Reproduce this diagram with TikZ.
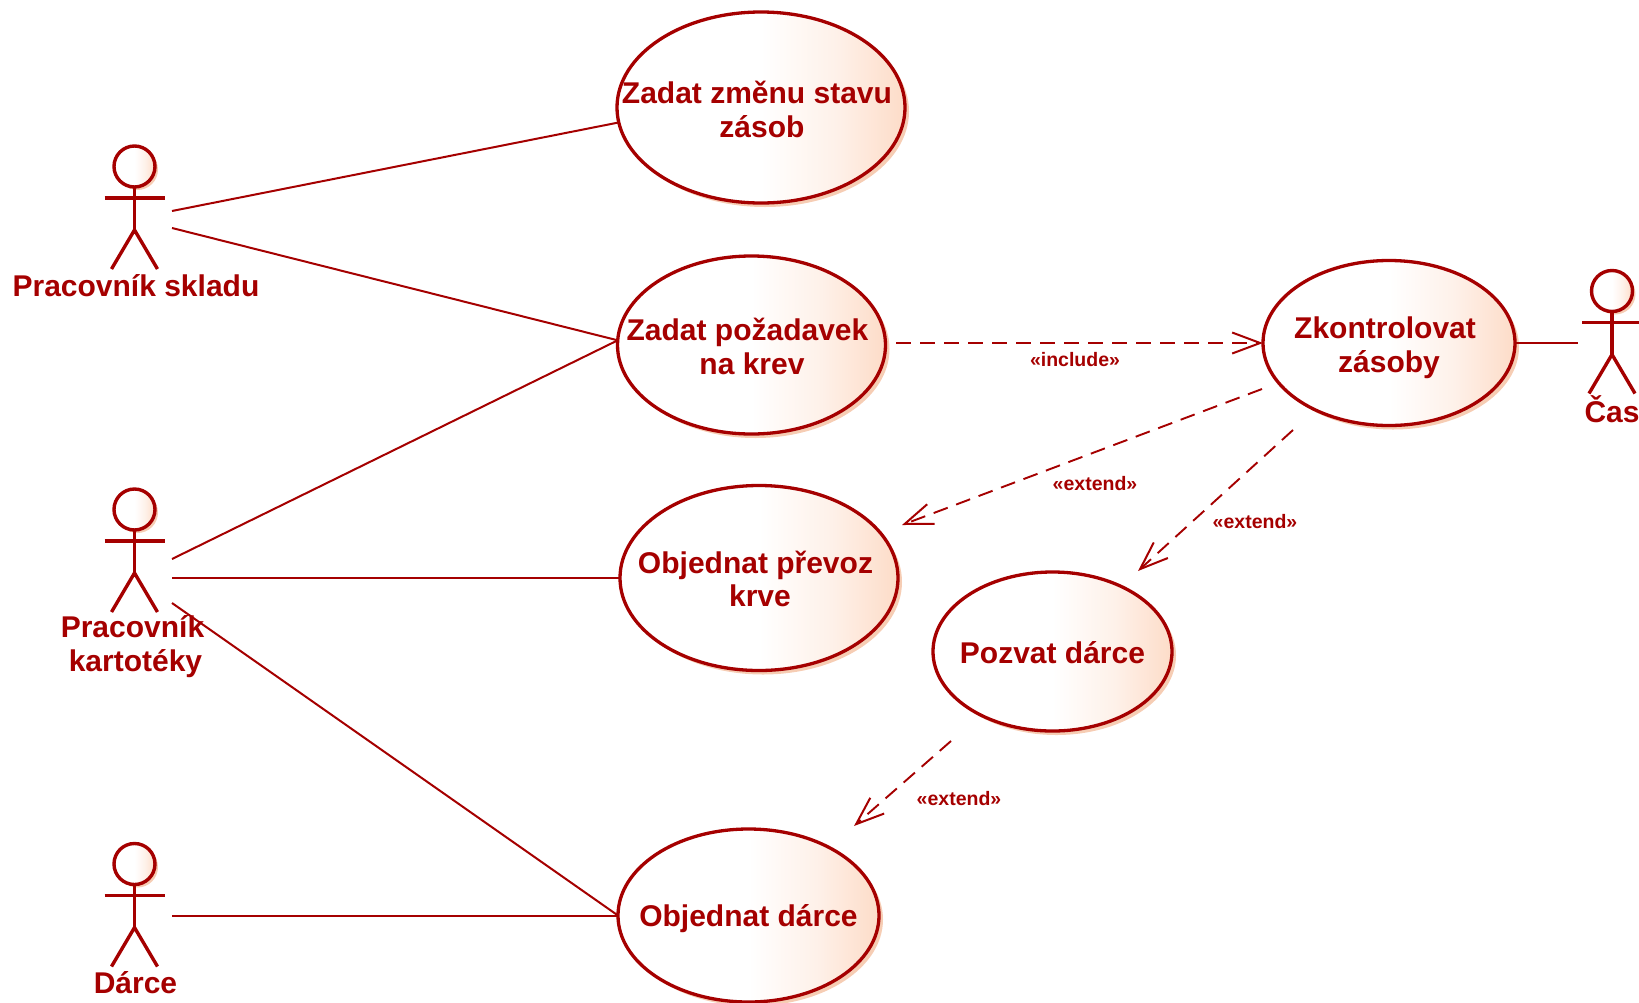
\documentclass[tikz,border=0pt]{standalone}
\usepackage{fontspec}
\setmainfont{Liberation Sans}
\usetikzlibrary{arrows.meta,shapes.geometric,shadows,calc}
\definecolor{umlred}{HTML}{A50000}
\definecolor{peach}{HTML}{FDDCC8}
\definecolor{shadowc}{HTML}{F6CDB4}
\pgfdeclarehorizontalshading{usecaseshade}{100bp}{color(0bp)=(white); color(50bp)=(white); color(63bp)=(peach!40); color(75bp)=(peach); color(100bp)=(peach)}
\tikzset{
  usecase/.style={ellipse,draw=umlred,line width=3.3pt,inner sep=0pt,outer sep=0pt,
    shading=usecaseshade,general shadow={shadow xshift=4pt,shadow yshift=-4pt,fill=shadowc}},
  ucname/.style={text=umlred,align=center,inner sep=0pt,font=\fontsize{30}{33.5}\bfseries\selectfont},
  actorhead/.style={circle,draw=umlred,line width=3.4pt,inner sep=0pt,outer sep=0pt,minimum size=41pt,
    shading=usecaseshade,general shadow={shadow xshift=3pt,shadow yshift=-3pt,fill=shadowc}},
  actorline/.style={draw=umlred,line width=3.4pt},
  actorname/.style={text=umlred,align=center,inner sep=0pt,font=\fontsize{30}{33.5}\bfseries\selectfont},
  assoc/.style={draw=umlred,line width=2pt},
  dep/.style={draw=umlred,line width=1.9pt,dash pattern=on 15pt off 9pt,
    -{Straight Barb[length=28pt,width=21pt,line width=2pt]}},
  deplabel/.style={text=umlred,inner sep=0pt,font=\fontsize{19.5}{22}\bfseries\selectfont}
}
\newcommand{\umlactor}[3]{%
  \node[actorhead] (#1) at (#2,#3) {};
  \draw[actorline] (#1.south) -- (#2,#3+63.5);
  \draw[actorline] (#2-30,#3+31.5) -- (#2+30,#3+31.5);
  \draw[actorline] (#2-23,#3+102.5) -- (#2,#3+63.5) -- (#2+23,#3+102.5);
}
\begin{document}
\begin{tikzpicture}[x=1pt,y=-1pt]
\useasboundingbox (0,0) rectangle (1639,1002);
% use cases
\node[usecase,minimum width=288pt,minimum height=191pt] (e1) at (761,107.5) {};
\node[ucname] (t1) at (762,109.5) {Zadat změnu stavu\kern10pt\\zásob};
\node[usecase,minimum width=268pt,minimum height=178pt] (e2) at (751.5,345) {};
\node[ucname] (t2) at (752,346.5) {Zadat požadavek\kern9pt\\na krev};
\node[usecase,minimum width=278pt,minimum height=185pt] (e3) at (759,578) {};
\node[ucname] (t3) at (760,579) {Objednat převoz\kern9pt\\krve};
\node[usecase,minimum width=239pt,minimum height=159pt] (e4) at (1052.5,651.5) {};
\node[ucname] (t4) at (1052.5,652.5) {Pozvat dárce};
\node[usecase,minimum width=261pt,minimum height=173pt] (e5) at (748.5,915.5) {};
\node[ucname] (t5) at (748.5,919) {Objednat dárce};
\node[usecase,minimum width=252pt,minimum height=165pt] (e6) at (1389,343) {};
\node[ucname] (t6) at (1389,347.5) {Zkontrolovat\kern8pt\\zásoby};
% actors
\umlactor{a1}{134.5}{166.5}
\umlactor{a2}{134.5}{509.5}
\umlactor{a3}{134.5}{864}
\umlactor{a4}{1612}{291}
\node[actorname] (n1) at (136,285.5) {Pracovník skladu};
\node[actorname] (n2) at (135.5,646.5) {Pracovník\kern6pt\\kartotéky};
\node[actorname] (n3) at (135.5,982.5) {Dárce};
\node[actorname] (n4) at (1612,409) {Čas};
% free ends
\coordinate (a1r1) at (172,211);
\coordinate (a1r2) at (172,228);
\coordinate (a2r1) at (172,559);
\coordinate (a2r2) at (172,578);
\coordinate (a2r3) at (172,603);
\coordinate (a3r1) at (172,915.5);
\coordinate (a4l) at (1578,343);
\coordinate (incS) at (896,343);
\coordinate (ex1S) at (1262,389);
\coordinate (ex1E) at (902,525);
\coordinate (ex2S) at (1293,430);
\coordinate (ex2E) at (1138,571);
\coordinate (ex3S) at (951,741);
\coordinate (ex3E) at (854,826);
% associations
\draw[assoc] (a1r1) -- (e1.186);
\draw[assoc] (a1r2) -- (e2.178);
\draw[assoc] (a2r1) -- (e2.178);
\draw[assoc] (a2r2) -- (e3.west);
\draw[assoc] (a2r3) -- (e5.west);
\draw[assoc] (a3r1) -- (e5.west);
\draw[assoc] (e6.east) -- (a4l);
% dependencies
\draw[dep] (incS) -- (e6.west);
\draw[dep] (ex1S) -- (ex1E);
\draw[dep] (ex2S) -- (ex2E);
\draw[dep] (ex3S) -- (ex3E);
\node[deplabel] (l1) at (1075,360) {«include»};
\node[deplabel] (l2) at (1095,484) {«extend»};
\node[deplabel] (l3) at (1255,522) {«extend»};
\node[deplabel] (l4) at (959,799) {«extend»};
\end{tikzpicture}
\end{document}
